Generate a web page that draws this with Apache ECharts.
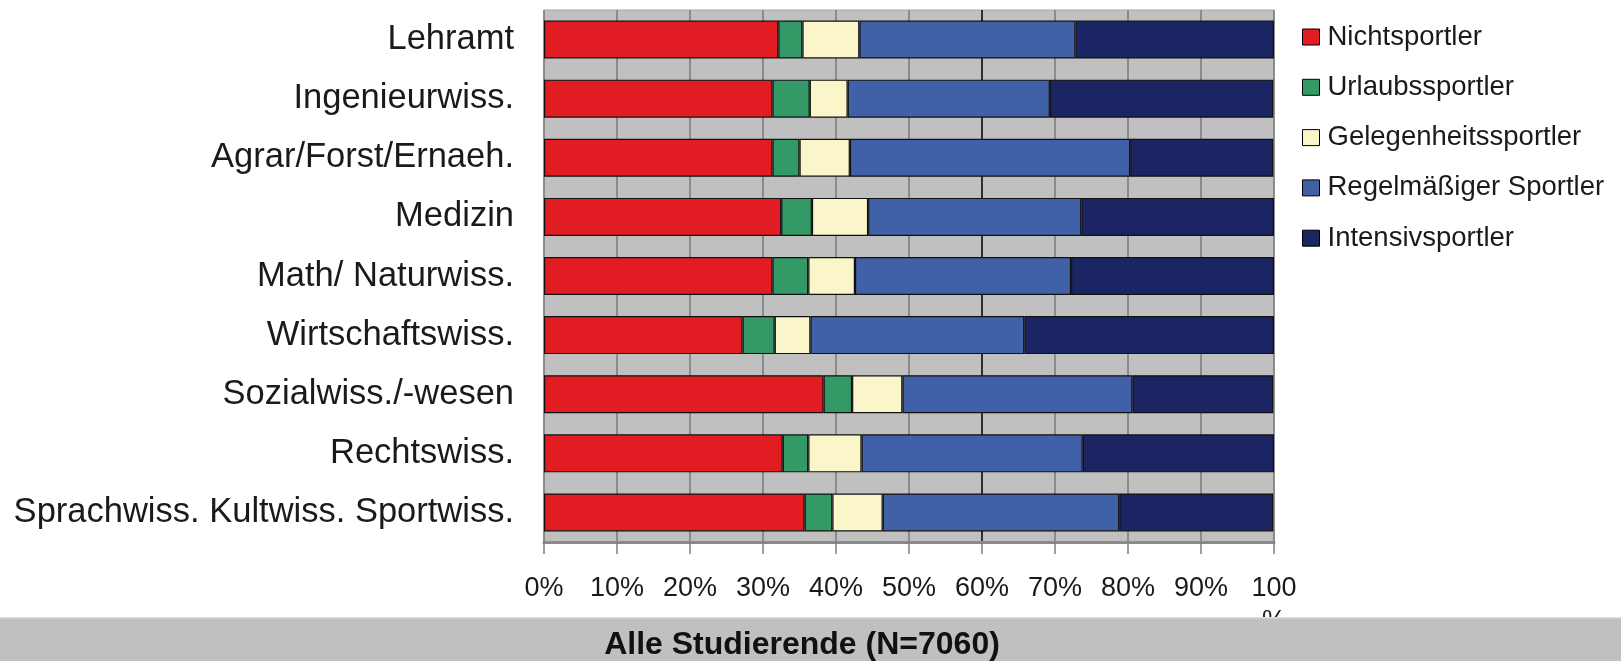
<!DOCTYPE html>
<html>
<head>
<meta charset="utf-8">
<title>Sportverhalten nach Fachrichtung</title>
<script src="https://cdn.jsdelivr.net/npm/echarts@6/dist/echarts.min.js"></script>
<style>
  html, body { margin: 0; padding: 0; background: #fff; }
  #chart { width: 1621px; height: 661px; }
</style>
</head>
<body>
<div id="chart"></div>
<script>
// Fachrichtungen (top to bottom)
const categories = [
  'Lehramt',
  'Ingenieurwiss.',
  'Agrar/Forst/Ernaeh.',
  'Medizin',
  'Math/ Naturwiss.',
  'Wirtschaftswiss.',
  'Sozialwiss./-wesen',
  'Rechtswiss.',
  'Sprachwiss. Kultwiss. Sportwiss.'
];

// Shares in percent per category
const nichtsportler      = [32.1, 31.3, 31.3, 32.5, 31.3, 27.2, 38.3, 32.7, 35.7];
const urlaubssportler    = [3.3, 5.1, 3.7, 4.2, 4.9, 4.4, 3.9, 3.5, 3.8];
const gelegenheits       = [7.8, 5.2, 6.9, 7.7, 6.4, 4.9, 6.9, 7.3, 6.9];
const regelmaessig       = [29.6, 27.7, 38.4, 29.2, 29.6, 29.3, 31.5, 30.3, 32.4];
const intensivsportler   = [27.2, 30.6, 19.6, 26.4, 27.8, 34.2, 19.3, 26.2, 21.1];

const seriesNames = ['Nichtsportler', 'Urlaubssportler', 'Gelegenheitssportler', 'Regelmäßiger Sportler', 'Intensivsportler'];
const seriesValues = [nichtsportler, urlaubssportler, gelegenheits, regelmaessig, intensivsportler];
const seriesColors = ['#E21C23', '#339966', '#FAF6CA', '#4061A8', '#1C2563'];

const xTicks = [0, 10, 20, 30, 40, 50, 60, 70, 80, 90, 100];
const footerTitle = 'Alle Studierende (N=7060)';

const FONT = '"Liberation Sans", Arial, sans-serif';

const gridLineColors = xTicks.map(v => v === 60 ? '#000000' : '#7a7a7a');

const chart = echarts.init(document.getElementById('chart'), null, { renderer: 'canvas' });

chart.setOption({
  animation: false,
  backgroundColor: '#ffffff',
  textStyle: { fontFamily: FONT, color: '#1a1a1a' },
  grid: {
    left: 544,
    right: 347,
    top: 10,
    bottom: 119,
    show: true,
    backgroundColor: '#C0C0C0',
    borderColor: '#a8a8a8',
    borderWidth: 1,
    containLabel: false
  },
  legend: {
    orient: 'vertical',
    left: 1297,
    top: 18,
    itemWidth: 17,
    itemHeight: 16,
    itemGap: 22.3,
    icon: 'rect',
    data: seriesNames,
    itemStyle: { borderColor: '#000', borderWidth: 1 },
    textStyle: {
      fontFamily: FONT,
      fontSize: 27.5,
      lineHeight: 27,
      color: '#1a1a1a',
      padding: [0, 0, 0, 3]
    }
  },
  xAxis: {
    type: 'value',
    min: 0,
    max: 100,
    interval: 10,
    axisLine: { show: true, lineStyle: { color: '#8a8a8a', width: 3 } },
    axisTick: { show: true, length: 12, lineStyle: { color: '#808080', width: 1.5 } },
    splitLine: { show: true, lineStyle: { color: gridLineColors, width: 1.5 } },
    axisLabel: {
      margin: 30,
      fontFamily: FONT,
      fontSize: 27,
      lineHeight: 33,
      color: '#1a1a1a',
      formatter: v => (v === 100 ? '100\n%' : v + '%')
    }
  },
  yAxis: {
    type: 'category',
    data: categories,
    inverse: true,
    axisLine: { show: false },
    axisTick: { show: false },
    splitLine: { show: false },
    axisLabel: {
      margin: 30,
      fontFamily: FONT,
      fontSize: 34.5,
      color: '#1a1a1a',
      padding: [4, 0, 0, 0]
    }
  },
  series: seriesNames.map((name, i) => ({
    name: name,
    type: 'bar',
    stack: 'total',
    barWidth: 38,
    data: seriesValues[i],
    itemStyle: { color: seriesColors[i], borderColor: '#111', borderWidth: 1.2 }
  })),
  graphic: [
    {
      type: 'rect',
      z: 100,
      shape: { x: 0, y: 617, width: 1621, height: 44 },
      style: { fill: '#C0C0C0' }
    },
    {
      type: 'rect',
      z: 101,
      shape: { x: 0, y: 617, width: 1621, height: 1.5 },
      style: { fill: '#dcdcdc' }
    },
    {
      type: 'text',
      z: 102,
      x: 802,
      y: 645,
      style: {
        text: footerTitle,
        fontFamily: FONT,
        fontWeight: 'bold',
        fontSize: 32,
        fill: '#111',
        align: 'center',
        verticalAlign: 'middle'
      }
    }
  ]
});
</script>
</body>
</html>
